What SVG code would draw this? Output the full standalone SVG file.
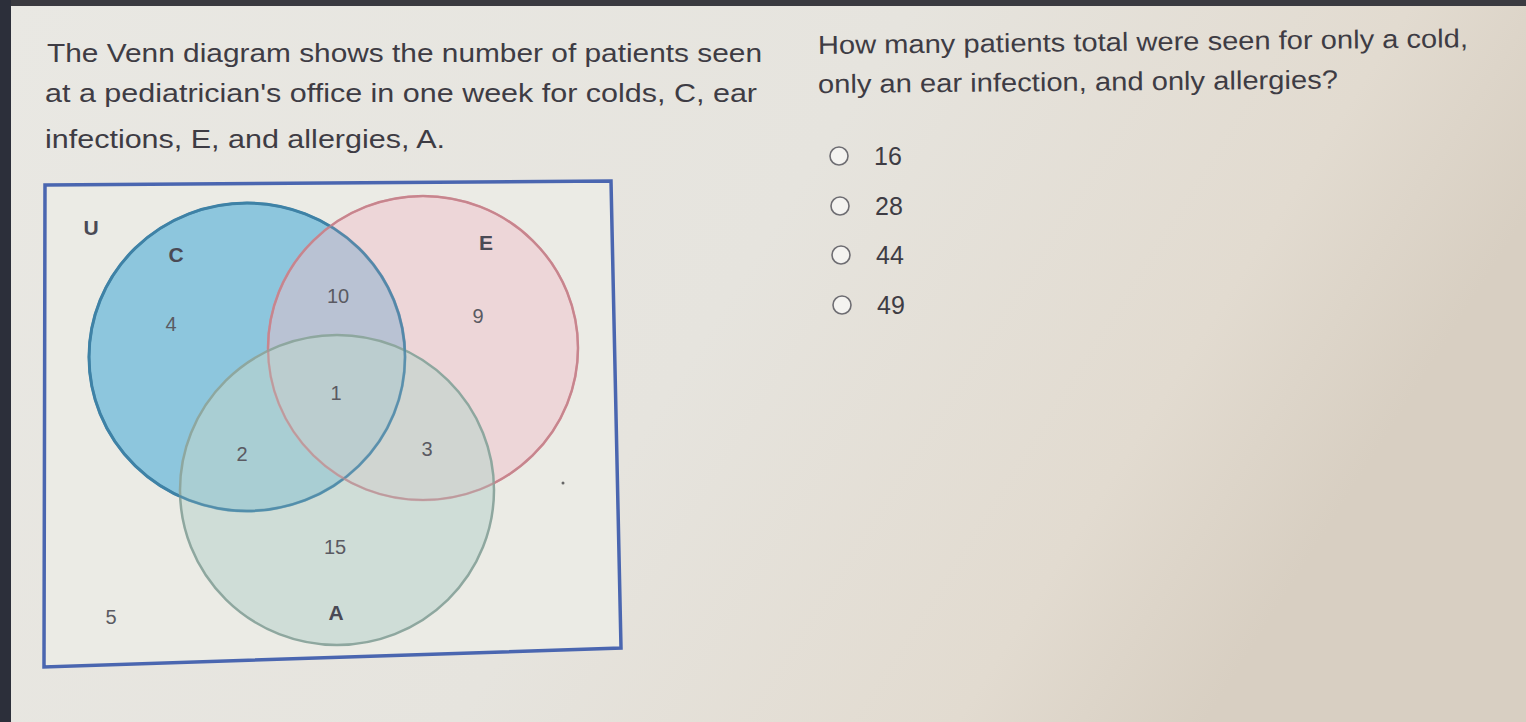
<svg xmlns="http://www.w3.org/2000/svg" width="1526" height="722" viewBox="0 0 1526 722">
<defs>
<linearGradient id="bg" x1="0" y1="0" x2="1" y2="0.3">
<stop offset="0" stop-color="#e9e8e3"/>
<stop offset="0.55" stop-color="#e6e4de"/>
<stop offset="0.85" stop-color="#e2dbd0"/>
<stop offset="1" stop-color="#d8cfc2"/>
</linearGradient>
<style>
.q{font-family:"Liberation Sans",Arial,sans-serif;font-size:26px;fill:#3e3c44}
.opt{font-family:"Liberation Sans",Arial,sans-serif;font-size:25px;fill:#3e3c44}
.radio{fill:#f4f3f0;stroke:#6e6d72;stroke-width:1.6}
.num{font-family:"Liberation Sans",Arial,sans-serif;font-size:20px;fill:#5a5a62;text-anchor:middle}
.lbl{font-family:"Liberation Sans",Arial,sans-serif;font-size:21px;font-weight:bold;fill:#4a4a55;text-anchor:middle}
</style>
</defs>
<rect width="1526" height="722" fill="url(#bg)"/>
<rect x="0" y="0" width="1526" height="6" fill="#3a3a40"/>
<rect x="0" y="0" width="11" height="722" fill="#2c2f3a"/>
<g id="question-left">
<text class="q" x="47" y="62" textLength="715" lengthAdjust="spacingAndGlyphs">The Venn diagram shows the number of patients seen</text>
<text class="q" x="45" y="102" textLength="712" lengthAdjust="spacingAndGlyphs">at a pediatrician's office in one week for colds, C, ear</text>
<text class="q" x="45" y="148" textLength="400" lengthAdjust="spacingAndGlyphs">infections, E, and allergies, A.</text>
</g>
<g id="question-right">
<text class="q" x="818" y="54" textLength="650" lengthAdjust="spacingAndGlyphs" transform="rotate(-0.6 818 54)">How many patients total were seen for only a cold,</text>
<text class="q" x="818" y="93" textLength="520" lengthAdjust="spacingAndGlyphs" transform="rotate(-0.5 818 93)">only an ear infection, and only allergies?</text>
</g>
<g id="options">
<g id="opt16"><circle class="radio" cx="839" cy="156" r="9"/><text class="opt" x="874" y="165">16</text></g>
<g id="opt28"><circle class="radio" cx="840" cy="206" r="9"/><text class="opt" x="875" y="215">28</text></g>
<g id="opt44"><circle class="radio" cx="841" cy="255" r="9"/><text class="opt" x="876" y="264">44</text></g>
<g id="opt49"><circle class="radio" cx="842" cy="305" r="9"/><text class="opt" x="877" y="314">49</text></g>
</g>
<g id="universe">
<polygon points="45,185 611,181 621,648 44,667" fill="#ebebe5" stroke="#4a66b0" stroke-width="3.5"/>
<text class="lbl" x="91" y="235">U</text>
<text class="num" x="111" y="624">5</text>
<circle cx="563" cy="483" r="1.5" fill="#666"/>
</g>
<g id="set-C">
<ellipse cx="247" cy="357" rx="158" ry="154" fill="#7cc0dc" fill-opacity="0.85" stroke="#3f82a6" stroke-width="3"/>
</g>
<g id="set-E">
<ellipse cx="423" cy="348" rx="155" ry="152" fill="#f0bcc8" fill-opacity="0.45" stroke="#d9808e" stroke-width="2.5"/>
</g>
<g id="set-A">
<ellipse cx="337" cy="490" rx="157" ry="155" fill="#bcd3cd" fill-opacity="0.6" stroke="#8ea79f" stroke-width="2.5"/>
</g>
<g id="outlines" fill="none">
<ellipse cx="247" cy="357" rx="158" ry="154" stroke="#3f82a6" stroke-width="2.5" stroke-opacity="0.75"/>
<ellipse cx="423" cy="348" rx="155" ry="152" stroke="#b88a8e" stroke-width="2" stroke-opacity="0.6"/>
</g>
<g id="labels">
<text class="lbl" x="176" y="262">C</text>
<text class="lbl" x="486" y="250">E</text>
<text class="lbl" x="336" y="620">A</text>
<text class="num" x="338" y="303">10</text>
<text class="num" x="171" y="331">4</text>
<text class="num" x="478" y="323">9</text>
<text class="num" x="336" y="400">1</text>
<text class="num" x="242" y="461">2</text>
<text class="num" x="427" y="456">3</text>
<text class="num" x="335" y="554">15</text>
</g>
</svg>
